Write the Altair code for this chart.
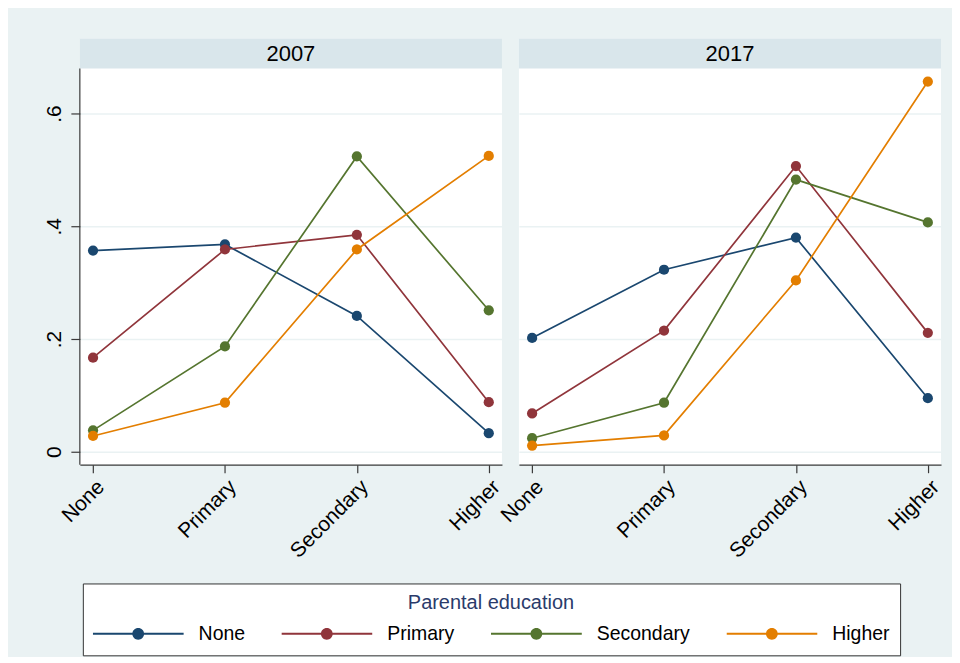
import altair as alt
import pandas as pd

# ---- data ----
categories = ["None", "Primary", "Secondary", "Higher"]   # x-axis: own education
series = ["None", "Primary", "Secondary", "Higher"]       # parental education
years = ["2007", "2017"]
colors = ["#1a476f", "#90353b", "#55752f", "#e37e00"]

y2007_none = [0.357, 0.368, 0.241, 0.033]
y2007_primary = [0.167, 0.359, 0.385, 0.088]
y2007_secondary = [0.038, 0.187, 0.524, 0.251]
y2007_higher = [0.028, 0.087, 0.359, 0.525]

y2017_none = [0.202, 0.323, 0.380, 0.095]
y2017_primary = [0.068, 0.215, 0.507, 0.211]
y2017_secondary = [0.024, 0.087, 0.483, 0.407]
y2017_higher = [0.011, 0.029, 0.304, 0.657]

values = {
    "2007": [y2007_none, y2007_primary, y2007_secondary, y2007_higher],
    "2017": [y2017_none, y2017_primary, y2017_secondary, y2017_higher],
}

rows = []
for yr in years:
    for s, vals in zip(series, values[yr]):
        for c, v in zip(categories, vals):
            rows.append({"year": yr, "parent": s, "level": c, "share": v})
df = pd.DataFrame(rows)

FONT = "Liberation Sans"
AXIS_COLOR = "#3a3a3a"
BG = "#EAF2F3"
STRIP = "#D9E6EB"
W = 423          # panel width
STRIP_H = 30     # strip height
PLOT_H = 397     # plot region height below the strip
H = STRIP_H + PLOT_H
Y_LO, Y_HI = -0.023, 0.68
Y_TOP = Y_HI + STRIP_H * (Y_HI - Y_LO) / PLOT_H

legend_symbol = ("M-1,-0.022H1V0.022H-1Z "
                 "M0.13,0A0.13,0.13,0,1,1,-0.13,0A0.13,0.13,0,1,1,0.13,0Z")

legend = alt.Legend(
    title="Parental education",
    orient="none",
    legendX=3,
    legendY=546,
    direction="horizontal",
    titleOrient="top",
    titleAnchor="middle",
    titleFontSize=20,
    titleFontWeight="normal",
    titleColor="#2a3b6b",
    titleFont=FONT,
    titleLimit=400,
    titlePadding=9,
    labelFontSize=19.5,
    labelFont=FONT,
    labelColor="black",
    labelOffset=15,
    labelLimit=300,
    columnPadding=36,
    symbolType=legend_symbol,
    symbolSize=8281,
    symbolStrokeWidth=0,
    symbolOpacity=1,
    clipHeight=23,
    padding=10,
    strokeColor="#333333",
    fillColor="white",
)


def panel(year, first):
    base = alt.Chart(df).transform_filter(alt.datum.year == year)
    x = alt.X(
        "level:N",
        sort=categories,
        scale=alt.Scale(type="point", padding=0.1),
        axis=alt.Axis(
            title=None, labelAngle=315, labelAlign="right", labelBaseline="top",
            labelFontSize=21, labelFont=FONT, labelColor="black", labelPadding=3,
            tickSize=8, tickColor=AXIS_COLOR, domainColor=AXIS_COLOR,
            domainWidth=1.2, tickWidth=1.2, grid=False,
        ),
    )
    if first:
        yaxis = alt.Axis(
            title=None, values=[0, 0.2, 0.4, 0.6],
            labelExpr="datum.value == 0 ? '0' : replace(format(datum.value, '.1f'), '0.', '.')",
            labelAngle=270, labelAlign="center", labelBaseline="bottom",
            labelFontSize=21, labelFont=FONT, labelColor="black", labelPadding=6,
            tickSize=9, tickColor=AXIS_COLOR, tickWidth=1.2, domain=False,
            grid=True, gridColor=BG, gridWidth=1.6,
        )
    else:
        yaxis = alt.Axis(
            title=None, values=[0, 0.2, 0.4, 0.6], labels=False, ticks=False,
            domain=False, grid=True, gridColor=BG, gridWidth=1.6,
        )
    y = alt.Y("share:Q", scale=alt.Scale(domain=[Y_LO, Y_TOP], nice=False, zero=False), axis=yaxis)
    cscale = alt.Scale(domain=series, range=colors)
    color = alt.Color("parent:N", sort=series, scale=cscale, legend=legend)

    head = alt.Chart(pd.DataFrame({"year": [year]}))
    strip = head.mark_rect(color=STRIP).encode(
        x=alt.value(0), x2=alt.value(W), y=alt.value(0), y2=alt.value(STRIP_H)
    )
    title = head.mark_text(
        fontSize=22, font=FONT, color="black", baseline="middle", align="center"
    ).encode(text="year:N", x=alt.value(W / 2), y=alt.value(STRIP_H / 2))

    lines = base.mark_line(strokeWidth=1.7).encode(x=x, y=y, color=color)
    pts = base.mark_point(filled=True, size=105, opacity=1).encode(x=x, y=y, color=color)

    layers = [strip, title, lines, pts]
    if first:
        axis_line = head.mark_rule(color=AXIS_COLOR, strokeWidth=1.2).encode(
            x=alt.value(0), y=alt.value(STRIP_H), y2=alt.value(H)
        )
        layers.append(axis_line)
    return alt.layer(*layers).properties(
        width=W, height=H, view=alt.ViewBackground(fill="white", strokeWidth=0)
    )


chart = alt.hconcat(
    panel("2007", True), panel("2017", False), spacing=17, bounds="flush"
).properties(
    padding={"left": 36, "top": 30, "right": 9, "bottom": 0},
    background=BG,
).configure_view(strokeWidth=0)

chart.save("out.html", embed_options={"renderer": "svg", "actions": False})
